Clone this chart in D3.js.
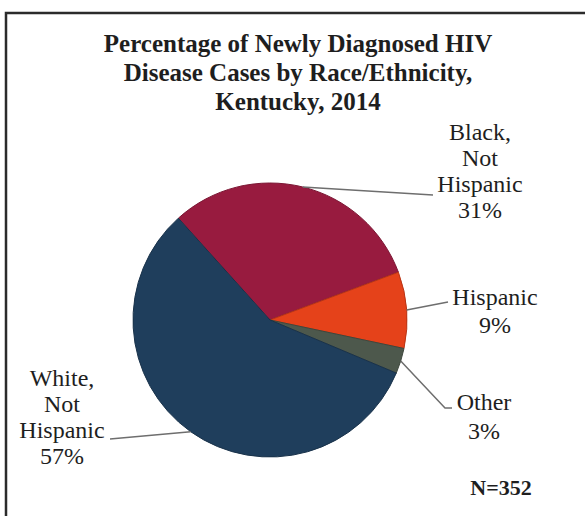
<!DOCTYPE html>
<html>
<head>
<meta charset="utf-8">
<script src="https://cdn.jsdelivr.net/npm/d3@7"></script>
<style>
  html, body { margin: 0; padding: 0; background: #fff; }
  svg { display: block; }
</style>
</head>
<body>
<svg id="chart" width="585" height="516"></svg>
<script>
// Newly diagnosed HIV cases, Kentucky 2014, share by race/ethnicity
const categories = ["Black, Not Hispanic", "Hispanic", "Other", "White, Not Hispanic"];
const percents = [31, 9, 3, 57];
const labelLines = [["Black,", "Not", "Hispanic"], ["Hispanic"], ["Other"], ["White,", "Not", "Hispanic"]];
const sliceColors = ["#981b3f", "#e5421a", "#4d584c", "#1f3e5c"];
const titleLines = ["Percentage of Newly Diagnosed HIV", "Disease Cases by Race/Ethnicity,", "Kentucky, 2014"];
const totalLabel = "N=352";

const W = 585, H = 516;
const FONT = "Liberation Serif";
const svg = d3.select("#chart");

// frame (top and left rules of the surrounding box)
svg.append("path")
  .attr("d", `M6,${H} L6,13 L${W},13`)
  .attr("fill", "none")
  .attr("stroke", "#2b2b2b")
  .attr("stroke-width", 2.5);

// title
const title = svg.append("text")
  .attr("font-family", FONT)
  .attr("fill", "#1e1e1e")
  .attr("text-anchor", "middle")
  .attr("font-weight", "bold")
  .attr("font-size", 25);
titleLines.forEach((t, i) => {
  title.append("tspan").attr("x", 298).attr("y", 52 + i * 29).text(t);
});

// pie
const cx = 270, cy = 320, R = 137;
const startDeg = -42;
const pie = d3.pie().sort(null).value(d => d)
  .startAngle(startDeg * Math.PI / 180)
  .endAngle((startDeg + 360) * Math.PI / 180);
const arcs = pie(percents);
const arc = d3.arc().innerRadius(0).outerRadius(R);

const g = svg.append("g").attr("transform", `translate(${cx},${cy})`);
g.selectAll("path.slice")
  .data(arcs)
  .join("path")
  .attr("class", "slice")
  .attr("d", arc)
  .attr("fill", (d, i) => sliceColors[i])
  .attr("stroke", (d, i) => d3.color(sliceColors[i]).darker(0.6))
  .attr("stroke-width", 1);

// label layout: leader line end (with optional elbow) and text block placement
const labelLayout = [
  { elbow: null, end: [433, 195], x: 480, y0: 140, step: 26 },
  { elbow: null, end: [448, 302], x: 495, y0: 305, step: 28 },
  { elbow: [445, 408], end: [452, 408], x: 484, y0: 410, step: 29 },
  { elbow: null, end: [110, 439], x: 62, y0: 386, step: 26 }
];

arcs.forEach((d, i) => {
  const mid = (d.startAngle + d.endAngle) / 2;
  const sx = cx + R * Math.sin(mid), sy = cy - R * Math.cos(mid);
  const L = labelLayout[i];
  const pts = [[sx, sy]];
  if (L.elbow) pts.push(L.elbow);
  pts.push(L.end);
  svg.append("path")
    .attr("d", d3.line()(pts))
    .attr("fill", "none")
    .attr("stroke", "#6e6e6e")
    .attr("stroke-width", 1.5);

  const t = svg.append("text")
    .attr("font-family", FONT)
    .attr("fill", "#1e1e1e")
    .attr("text-anchor", "middle")
    .attr("font-size", 24);
  const lines = labelLines[i].concat([d3.format("d")(d.data) + "%"]);
  lines.forEach((s, j) => {
    t.append("tspan").attr("x", L.x).attr("y", L.y0 + j * L.step).text(s);
  });
});

// sample size
svg.append("text")
  .attr("font-family", FONT)
  .attr("fill", "#1e1e1e")
  .attr("x", 501).attr("y", 495)
  .attr("text-anchor", "middle")
  .attr("font-size", 22)
  .attr("font-weight", "bold")
  .text(totalLabel);
</script>
</body>
</html>
